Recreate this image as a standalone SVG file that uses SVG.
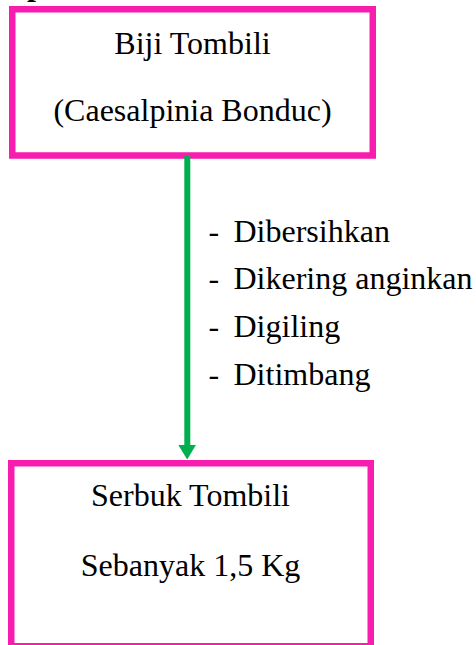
<svg xmlns="http://www.w3.org/2000/svg" width="476" height="645" viewBox="0 0 476 645">
<defs>
<style>
.box{fill:#FFFFFF;stroke:#F81CAF;stroke-width:6.5}
.t{font-family:"Liberation Serif","Times New Roman",serif;font-size:32px;fill:#000000}
.c{text-anchor:middle}
</style>
</defs>
<rect width="476" height="645" fill="#FFFFFF"/>
<text class="t" x="27" y="-5" font-weight="bold">p</text>
<g id="node-biji">
<rect class="box" x="12.25" y="9.25" width="360.5" height="146.25"/>
<text class="t c" x="192.5" y="53.5">Biji Tombili</text>
<text class="t c" x="192.5" y="120.5">(Caesalpinia Bonduc)</text>
</g>
<g id="node-serbuk">
<rect class="box" x="11.25" y="463.25" width="359.5" height="183"/>
<text class="t c" x="190.5" y="506">Serbuk Tombili</text>
<text class="t c" x="190.5" y="576">Sebanyak 1,5 Kg</text>
</g>
<g id="connectors">
<line x1="187.3" y1="155" x2="187.3" y2="446" stroke="#00B050" stroke-width="6"/>
<polygon points="178.3,445 195.9,445 187.2,459.5" fill="#00B050"/>
</g>
<g id="steps">
<text class="t" x="208.5" y="241.7">-</text><text class="t" x="233.5" y="241.7">Dibersihkan</text>
<text class="t" x="208.5" y="289.3">-</text><text class="t" x="233.5" y="289.3">Dikering anginkan</text>
<text class="t" x="208.5" y="336.8">-</text><text class="t" x="233.5" y="336.8">Digiling</text>
<text class="t" x="208.5" y="384.6">-</text><text class="t" x="233.5" y="384.6">Ditimbang</text>
</g>
</svg>
